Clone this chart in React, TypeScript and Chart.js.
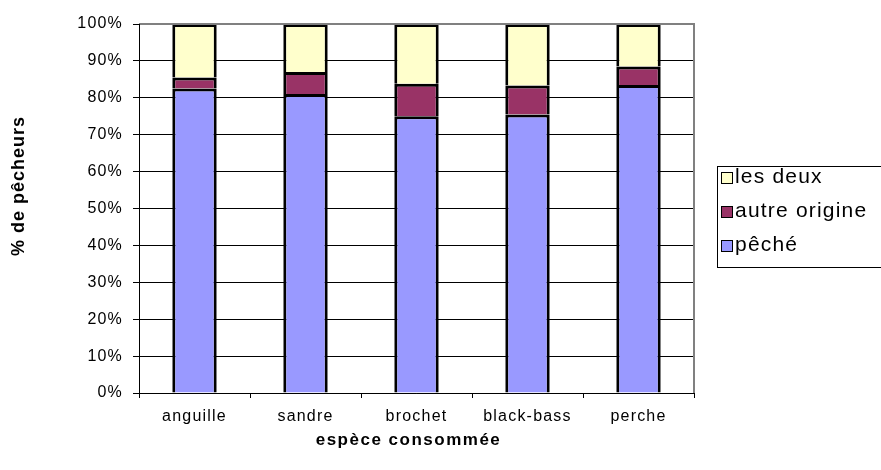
import React, { useEffect, useRef } from "react";
import { Chart, registerables } from "chart.js";

Chart.register(...registerables);

const categories = ["anguille", "sandre", "brochet", "black-bass", "perche"];
const peche = [82.5, 81, 75, 75.5, 83.5];
const autreOrigine = [3, 6, 8.8, 7.8, 5];
const lesDeux = [14.5, 13, 16.2, 16.7, 11.5];
const yTicks = [0, 10, 20, 30, 40, 50, 60, 70, 80, 90, 100];
const xTitle = "espèce consommée";
const yTitle = "% de pêcheurs";

const FONT = "Arial, 'Liberation Sans', sans-serif";

const PLOT = { left: 139, right: 694, top: 24, bottom: 393 };

const framePlugin = {
  id: "frame",
  beforeUpdate(chart: any) {
    chart.ctx.letterSpacing = "1.2px";
  },
  beforeDraw(chart: any) {
    chart.ctx.letterSpacing = "1.2px";
  },
  afterDatasetsDraw(chart: any) {
    const { ctx, chartArea } = chart;
    const { left, right, top, bottom } = chartArea;
    ctx.save();
    ctx.strokeStyle = "#808080";
    ctx.lineWidth = 2;
    ctx.beginPath();
    ctx.moveTo(left, top);
    ctx.lineTo(right, top);
    ctx.lineTo(right, bottom);
    ctx.stroke();
    ctx.strokeStyle = "#000";
    ctx.lineWidth = 1;
    ctx.beginPath();
    ctx.moveTo(left + 0.5, top);
    ctx.lineTo(left + 0.5, bottom + 0.5);
    ctx.lineTo(right, bottom + 0.5);
    ctx.stroke();
    ctx.restore();
  },
  afterDraw(chart: any) {
    const { ctx, chartArea } = chart;
    ctx.save();
    // axis titles
    ctx.fillStyle = "#000";
    ctx.font = `bold 17px ${FONT}`;
    ctx.letterSpacing = "1.5px";
    ctx.textAlign = "center";
    ctx.textBaseline = "middle";
    ctx.fillText(xTitle, (chartArea.left + chartArea.right) / 2 - 8, 440);
    ctx.font = `bold 18px ${FONT}`;
    ctx.letterSpacing = "1px";
    ctx.save();
    ctx.translate(19, 186);
    ctx.rotate(-Math.PI / 2);
    ctx.fillText(yTitle, 0, 0);
    ctx.restore();

    // legend box
    const bx = 717.5, by = 166.5, bw = 175, bh = 101;
    ctx.strokeStyle = "#000";
    ctx.lineWidth = 1;
    ctx.strokeRect(bx, by, bw, bh);
    const ds = chart.data.datasets;
    const order = [2, 1, 0];
    ctx.font = `21px ${FONT}`;
    ctx.letterSpacing = "1.2px";
    ctx.textAlign = "left";
    ctx.textBaseline = "middle";
    order.forEach((di, i) => {
      const cy = 177 + i * 34;
      ctx.fillStyle = ds[di].backgroundColor;
      ctx.fillRect(721, cy - 5, 12, 12);
      ctx.strokeStyle = "#000";
      ctx.strokeRect(721.5, cy - 4.5, 11, 11);
      ctx.fillStyle = "#000";
      ctx.fillText(ds[di].label, 735, cy);
    });
    ctx.restore();
  },
};

export default function App() {
  const ref = useRef<HTMLCanvasElement>(null);
  useEffect(() => {
    if (!ref.current) return;
    const chart = new Chart(ref.current, {
      type: "bar",
      data: {
        labels: categories,
        datasets: [
          { label: "pêché", data: peche, backgroundColor: "#9999FF", borderColor: "#000", borderWidth: 3 },
          { label: "autre origine", data: autreOrigine, backgroundColor: "#993366", borderColor: "#000", borderWidth: 3 },
          { label: "les deux", data: lesDeux, backgroundColor: "#FFFFCC", borderColor: "#000", borderWidth: 3 },
        ],
      },
      options: {
        animation: false,
        responsive: false,
        maintainAspectRatio: false,
        layout: { padding: { top: PLOT.top, right: 881 - PLOT.right, bottom: 0, left: 0 } },
        datasets: { bar: { barPercentage: 0.4, categoryPercentage: 1 } },
        plugins: { legend: { display: false }, tooltip: { enabled: false } },
        scales: {
          x: {
            stacked: true,
            grid: { display: true, drawOnChartArea: false, drawTicks: true, tickLength: 5, color: "#000", offset: true },
            border: { display: false },
            ticks: { color: "#000", font: { family: FONT, size: 16 }, padding: 9, maxRotation: 0 },
            afterFit(scale: any) {
              scale.height = 470 - PLOT.bottom;
            },
          },
          y: {
            stacked: true,
            min: 0,
            max: 100,
            afterBuildTicks(scale: any) {
              scale.ticks = yTicks.map((v) => ({ value: v }));
            },
            grid: { color: "#000", lineWidth: 1, tickLength: 6, drawTicks: true },
            border: { display: false },
            ticks: {
              color: "#000",
              font: { family: FONT, size: 16 },
              padding: 10,
              callback: (v: any) => v + "%",
            },
            afterFit(scale: any) {
              scale.width = PLOT.left;
            },
          },
        },
      },
      plugins: [framePlugin],
    });
    return () => chart.destroy();
  }, []);
  return (
    <div style={{ position: "fixed", left: 0, top: 0, width: 881, height: 470, background: "#fff" }}>
      <canvas ref={ref} width={881} height={470} style={{ width: 881, height: 470 }} />
    </div>
  );
}
